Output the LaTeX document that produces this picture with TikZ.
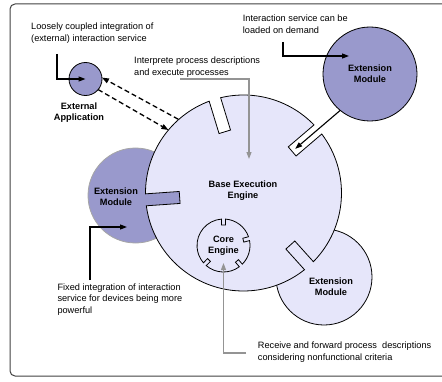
\documentclass[tikz,border=0pt]{standalone}
\usepackage{fontspec}
\setmainfont{Liberation Sans}
\usetikzlibrary{calc,arrows.meta}
\definecolor{modfill}{RGB}{153,153,204}
\definecolor{basefill}{RGB}{230,230,250}
\tikzset{
  module/.style={circle,draw,fill=modfill,inner sep=0pt,outer sep=0pt,line width=.8pt},
  modlabel/.style={font=\fontsize{9.2}{11}\selectfont\bfseries,align=center,inner sep=1pt},
  note/.style={font=\fontsize{9.2}{11.8}\selectfont,align=left,anchor=west,inner sep=0pt},
  link/.style={->,line width=1.1pt},
  greylink/.style={->,line width=1.1pt,draw=black!42}
}
\begin{document}
\begin{tikzpicture}[x=1pt,y=1pt,>={Triangle[length=7pt,width=5pt]}]
\useasboundingbox (0,0) rectangle (442,381);
\draw[rounded corners=5pt,draw=black!75,line width=1pt] (442,377) -- (10,377) -- (10,5) -- (442,5);
\coordinate (base) at (243.5,188);
\coordinate (core) at (223.5,135.5);
% modules lying under the engine
\node[module,fill=basefill,minimum size=96pt] (extlow) at (324,104) {};
\node[module,draw=black!35,minimum size=95pt] (extleft) at (135.5,185.5) {};
% base execution engine with its slots
\draw[fill=basefill,line width=.8pt] ($(base)+(37:98pt)$)
  \foreach \a/\b/\r in {40.5/107/64, 107/184/64, 184/312/64, 312/400.5/70} {
    -- ($(base)+(\a:\r pt)+({\a-90}:6pt)$) -- ($(base)+(\a:\r pt)+({\a+90}:6pt)$)
    -- ($(base)+({\a+3.5}:98pt)$) arc[start angle={\a+3.5},end angle={\b-3.5},radius=98pt]
  } -- cycle;
% core engine
\draw[line width=.8pt] ($(core)+(10.7:26.5pt)$)
  \foreach \a/\b in {15/90, 90/225, 225/311, 311/375} {
    -- ($(core)+(\a:20.5pt)+({\a-90}:2pt)$) -- ($(core)+(\a:20.5pt)+({\a+90}:2pt)$)
    -- ($(core)+({\a+4.3}:26.5pt)$) arc[start angle={\a+4.3},end angle={\b-4.3},radius=26.5pt]
  } -- cycle;
\node[module,minimum size=94pt,modlabel] (extright) at (370,307) {Extension\\Module};
\node[module,minimum size=33pt] (extapp) at (85.5,302) {};
% labels
\node[modlabel] (lowlbl) at (331,94.5) {Extension\\Module};
\node[modlabel] (leftlbl) at (116,184.5) {Extension\\Module};
\node[modlabel] (applbl) at (79,268.5) {External\\Application};
\node[modlabel] (baselbl) at (243,190.5) {Base Execution\\Engine};
\node[modlabel] (corelbl) at (223.5,135.5) {Core\\Engine};
\node[note] (noteloose) at (31,347.5) {Loosely coupled integration of\\(external) interaction service};
\node[note] (noteinterp) at (134,313.5) {Interprete process descriptions\\and execute processes};
\node[note] (noteload) at (242.7,357) {Interaction service can be\\loaded on demand};
\node[note] (notefixed) at (57.3,81.5) {Fixed integration of interaction\\service for devices being more\\powerful};
\node[note] (notercv) at (257.7,29) {Receive and forward process\ \ descriptions\\considering nonfunctional criteria};
% connectors
\coordinate (looseA) at (57,327);
\coordinate (loadA) at (283,339);
\coordinate (loadB) at (349,325);
\coordinate (interpA) at (180,302);
\coordinate (interpB) at (249,222);
\coordinate (fixedA) at (90,101);
\coordinate (fixedB) at (127,154);
\coordinate (rcvA) at (246,28);
\coordinate (rcvB) at (223.5,118);
\coordinate (plugA) at ($(base)+(40.5:127pt)$);
\coordinate (plugB) at ($(base)+(40.5:68pt)$);
\coordinate (dashA) at ($(base)+(131.5:98.5pt)$);
\coordinate (dashB) at ($(base)+(140:98pt)$);
\draw[link] (looseA) |- (extapp.center);
\draw[link] (loadA) |- (loadB);
\draw[link] (fixedA) |- (fixedB);
\draw[link] (plugA) -- (plugB);
\draw[greylink] (interpA) -| (interpB);
\draw[greylink] (rcvA) -| (rcvB);
\draw[link,line width=1.3pt,dash pattern=on 5pt off 3pt] (dashA) -- (extapp.5);
\draw[link,line width=1.3pt,dash pattern=on 5pt off 3pt] (extapp.-40) -- (dashB);
\end{tikzpicture}
\end{document}
